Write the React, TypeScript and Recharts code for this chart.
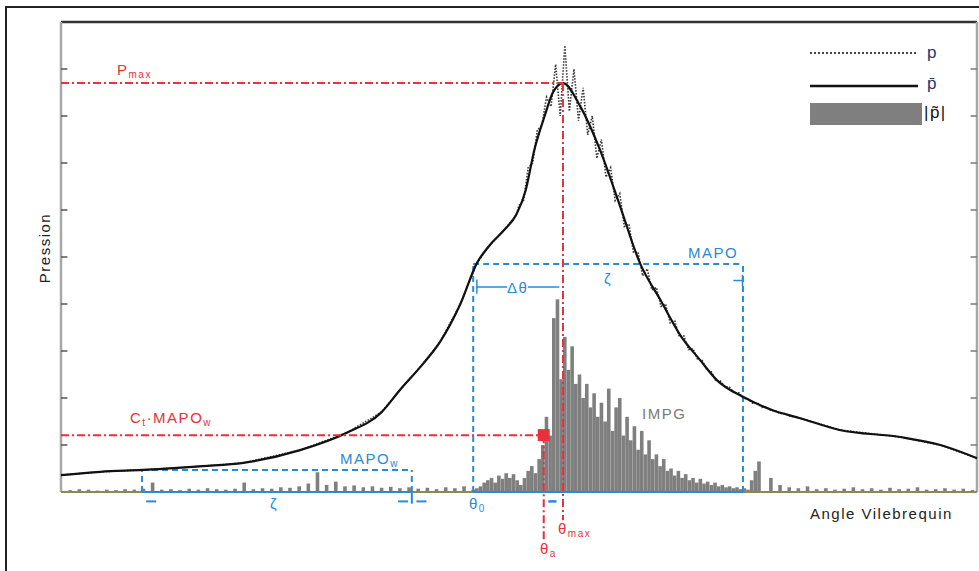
import React from 'react';
import { ComposedChart, Bar, Line, XAxis, YAxis, ReferenceLine, ReferenceDot } from 'recharts';

// smoothed pressure curve (angle, value)
const pressureAngles = [0, 4.3, 8.9, 15.5, 19.9, 26.1, 31.2, 35.0, 37.0, 39.4, 41.4, 43.6, 45.4, 46.8, 48.5, 49.7, 50.7, 51.7, 52.8, 53.7, 54.8, 56.7, 58.8, 61.0, 63.2, 65.4, 67.6, 69.8, 71.6, 74.5, 77.7, 80.7, 85.0, 91.6, 96.0, 100];
const pressureValues = [0.36, 0.43, 0.47, 0.55, 0.62, 0.89, 1.26, 1.7, 2.17, 2.7, 3.2, 4.0, 4.87, 5.25, 5.6, 5.9, 6.4, 7.3, 8.0, 8.5, 8.7, 8.2, 7.3, 6.1, 4.87, 4.1, 3.34, 2.8, 2.38, 2.02, 1.74, 1.57, 1.32, 1.17, 1.0, 0.72];

// raw (noisy) pressure, sampled every 0.5 deg from 50
const rawStart = 50;
const rawStep = 0.5;
const rawValues = [6.1, 6.2, 6.9, 7.0, 7.7, 7.8, 8.4, 8.2, 9.1, 8.0, 9.5, 8.1, 9.0, 7.9, 8.6, 7.6, 8.0, 7.1, 7.5, 6.7, 6.9, 6.2, 6.35, 5.65, 5.7, 5.1, 5.1, 4.6, 4.75, 4.3, 4.35, 3.95, 4.0, 3.6, 3.65, 3.3, 3.32, 3.03, 3.05, 2.82, 2.8, 2.6, 2.56, 2.36, 2.36, 2.24, 2.23, 2.1, 2.11, 1.99, 1.98, 1.89, 1.9, 1.8, 1.81, 1.73, 1.73, 1.67, 1.67, 1.62, 1.6];

// oscillation amplitude histogram
const leftAngles = [1, 2, 3, 4, 5, 6, 7, 8, 9, 10, 11, 12, 13, 14, 15, 16, 17, 18, 19, 20, 21, 22, 23, 24, 25, 26, 27, 28, 29, 30, 31, 32, 33, 34, 35, 36, 37, 38, 39, 40, 41, 42, 43, 44];
const leftValues = [0.04, 0.06, 0.05, 0.03, 0.05, 0.04, 0.06, 0.05, 0.07, 0.2, 0.05, 0.06, 0.04, 0.07, 0.05, 0.08, 0.06, 0.05, 0.07, 0.2, 0.06, 0.08, 0.07, 0.1, 0.09, 0.12, 0.18, 0.42, 0.15, 0.22, 0.12, 0.14, 0.1, 0.12, 0.09, 0.11, 0.08, 0.1, 0.07, 0.09, 0.06, 0.1, 0.08, 0.12];
const mainStart = 45;
const mainStep = 0.4;
const mainValues = [0.05, 0.08, 0.12, 0.2, 0.25, 0.3, 0.2, 0.35, 0.28, 0.4, 0.3, 0.38, 0.25, 0.15, 0.3, 0.45, 0.55, 0.4, 0.7, 1.0, 1.6, 1.2, 3.7, 4.1, 2.4, 3.3, 2.6, 3.1, 2.3, 2.5, 2.0, 2.3, 1.8, 2.1, 1.6, 1.9, 1.5, 2.2, 1.3, 1.8, 2.0, 1.2, 1.6, 1.1, 1.4, 0.9, 1.3, 0.8, 1.1, 0.7, 0.8, 0.55, 0.7, 0.45, 0.5, 0.35, 0.45, 0.3, 0.38, 0.25, 0.3, 0.2, 0.28, 0.18, 0.22, 0.15, 0.2, 0.12, 0.15, 0.1, 0.12, 0.08, 0.1, 0.06, 0.08, 0.05, 0.25, 0.45, 0.65];
const rightAngles = [77.5, 78.5, 79.5, 80.5, 81.5, 82.5, 83.5, 84.5, 85.5, 86.5, 87.5, 88.5, 89.5, 90.5, 91.5, 92.5, 93.5, 94.5, 95.5, 96.5, 97.5, 98.5, 99.5];
const rightValues = [0.3, 0.15, 0.1, 0.08, 0.12, 0.06, 0.08, 0.05, 0.07, 0.1, 0.06, 0.08, 0.05, 0.09, 0.06, 0.07, 0.1, 0.05, 0.06, 0.08, 0.05, 0.07, 0.04];

const yTicks = [1, 2, 3, 4, 5, 6, 7, 8, 9];

// annotation values
const pMax = 8.7;
const thetaMax = 54.8;
const thetaA = 52.7;
const cMapo = 1.21;
const mapoBox = { x1: 45.0, x2: 74.45, top: 4.85 };
const mapoWBox = { x1: 8.84, x2: 38.3, top: 0.47 };

const pressureData = pressureAngles.map((x, i) => ({ x, v: pressureValues[i] }));
const rawData = [
  ...pressureData.filter((d) => d.x < rawStart),
  ...rawValues.map((v, i) => ({ x: rawStart + i * rawStep, v })),
  ...pressureData.filter((d) => d.x > rawStart + (rawValues.length - 1) * rawStep),
];
const barData = [
  ...leftAngles.map((x, i) => ({ x, v: leftValues[i] })),
  ...mainValues.map((v, i) => ({ x: +(mainStart + i * mainStep).toFixed(2), v })),
  ...rightAngles.map((x, i) => ({ x, v: rightValues[i] })),
];

const RED = '#e8313a';
const BLUE = '#2b8ad6';
const FONT = '"Liberation Sans", Arial, sans-serif';

const T = ({ x, y, color = '#222', size = 15, bg, children }: any) => (
  <div
    style={{
      position: 'absolute',
      left: x,
      top: y,
      color,
      fontSize: size,
      fontFamily: FONT,
      letterSpacing: 1.5,
      lineHeight: 1,
      whiteSpace: 'nowrap',
      background: bg,
    }}
  >
    {children}
  </div>
);

const Sub = ({ children }: any) => <sub style={{ fontSize: 10, verticalAlign: -3 }}>{children}</sub>;

const seg = (x1: number, y1: number, x2: number, y2: number) => [
  { x: x1, y: y1 },
  { x: x2, y: y2 },
];

// histogram bar, centred on the library's bar position with a fixed width
const HistBar = (p: any) => {
  const cx = p.x + p.width / 2;
  return <rect x={cx - 1.8} y={p.y} width={3.6} height={Math.max(p.height, 0)} fill="#7f7f7f" />;
};

export default function App() {
  return (
    <div style={{ position: 'absolute', left: 0, top: 0, width: 979, height: 571, overflow: 'hidden', background: '#fff' }}>
      <div style={{ position: 'absolute', left: 5, top: 6, right: -4, bottom: -4, borderLeft: '2px solid #222', borderTop: '2px solid #222' }} />
      <div style={{ position: 'absolute', left: 0, top: 0 }}>
        <ComposedChart width={979} height={571} data={barData} margin={{ top: 22, right: 2, bottom: 79, left: 61 }}>
          <XAxis type="number" dataKey="x" domain={[0, 100]} hide />
          <YAxis domain={[0, 10]} hide />

          <Bar dataKey="v" fill="#7f7f7f" shape={HistBar} isAnimationActive={false} />

          {/* plot frame and inner ticks */}
          <ReferenceLine y={10} stroke="#333" strokeWidth={2.5} />
          <ReferenceLine x={0} stroke="#a8a8a8" strokeWidth={2.5} />
          <ReferenceLine x={100} stroke="#a8a8a8" strokeWidth={2.5} />
          <ReferenceLine y={0} stroke="#8a8a55" strokeWidth={2} />
          {yTicks.map((k) => (
            <ReferenceLine key={'l' + k} segment={seg(0, k, 0.7, k)} stroke="#555" strokeWidth={1.5} />
          ))}
          {yTicks.map((k) => (
            <ReferenceLine key={'r' + k} segment={seg(99.3, k, 100, k)} stroke="#777" strokeWidth={1.5} />
          ))}

          {/* MAPOw window */}
          <ReferenceLine segment={seg(mapoWBox.x1, 0, mapoWBox.x1, mapoWBox.top)} stroke={BLUE} strokeWidth={2} strokeDasharray="6 4" />
          <ReferenceLine segment={seg(mapoWBox.x1, mapoWBox.top, mapoWBox.x2, mapoWBox.top)} stroke={BLUE} strokeWidth={2} strokeDasharray="6 4" />
          <ReferenceLine segment={seg(mapoWBox.x2, 0, mapoWBox.x2, mapoWBox.top)} stroke={BLUE} strokeWidth={2} strokeDasharray="6 4" />
          <ReferenceLine segment={seg(mapoWBox.x1, 0, mapoWBox.x2, 0)} stroke={BLUE} strokeWidth={2} />
          {/* MAPO window */}
          <ReferenceLine segment={seg(mapoBox.x1, 0, mapoBox.x1, mapoBox.top)} stroke={BLUE} strokeWidth={2} strokeDasharray="6 4" />
          <ReferenceLine segment={seg(mapoBox.x1, mapoBox.top, mapoBox.x2, mapoBox.top)} stroke={BLUE} strokeWidth={2} strokeDasharray="6 4" />
          <ReferenceLine segment={seg(mapoBox.x2, 0, mapoBox.x2, mapoBox.top)} stroke={BLUE} strokeWidth={2} strokeDasharray="6 4" />
          <ReferenceLine segment={seg(mapoBox.x1, 0, mapoBox.x2, 0)} stroke={BLUE} strokeWidth={2} />
          <ReferenceLine segment={seg(45.4, 4.36, 54.4, 4.36)} stroke={BLUE} strokeWidth={1.5} />
          <ReferenceLine segment={seg(45.4, 4.22, 45.4, 4.52)} stroke={BLUE} strokeWidth={1.5} />
          <ReferenceLine segment={seg(73.4, 4.5, 74.4, 4.5)} stroke={BLUE} strokeWidth={1.5} />
          <ReferenceLine segment={seg(74.4, 4.38, 74.4, 4.62)} stroke={BLUE} strokeWidth={1.5} />
          {/* window marks under the axis */}
          <ReferenceLine segment={seg(9.3, -0.2, 10.4, -0.2)} stroke={BLUE} strokeWidth={2} ifOverflow="visible" />
          <ReferenceLine segment={seg(36.8, -0.2, 37.9, -0.2)} stroke={BLUE} strokeWidth={2} ifOverflow="visible" />
          <ReferenceLine segment={seg(38.3, -0.02, 38.3, -0.25)} stroke={BLUE} strokeWidth={2} ifOverflow="visible" />
          <ReferenceLine segment={seg(38.8, -0.2, 39.9, -0.2)} stroke={BLUE} strokeWidth={2} ifOverflow="visible" />
          <ReferenceLine segment={seg(53.2, -0.2, 54.1, -0.2)} stroke={BLUE} strokeWidth={2.5} ifOverflow="visible" />

          <Line data={rawData} dataKey="v" type="linear" stroke="#333" strokeWidth={1.6} strokeDasharray="1.5 1.5" dot={false} isAnimationActive={false} />
          <Line data={pressureData} dataKey="v" type="monotone" stroke="#111" strokeWidth={2.2} dot={false} isAnimationActive={false} />

          {/* Pmax / theta max */}
          <ReferenceLine segment={seg(0, pMax, thetaMax, pMax)} stroke={RED} strokeWidth={2} strokeDasharray="8 3 2 3" />
          <ReferenceLine segment={seg(thetaMax, pMax, thetaMax, -0.6)} stroke={RED} strokeWidth={2} strokeDasharray="8 3 2 3" ifOverflow="visible" />
          {/* C.MAPOw / theta a */}
          <ReferenceLine segment={seg(0, cMapo, thetaA, cMapo)} stroke={RED} strokeWidth={2} strokeDasharray="8 3 2 3" />
          <ReferenceLine segment={seg(thetaA, cMapo, thetaA, -1.05)} stroke={RED} strokeWidth={2} strokeDasharray="8 3 2 3" ifOverflow="visible" />
          <ReferenceDot
            x={thetaA}
            y={cMapo}
            r={6}
            shape={(p: any) => <rect x={p.cx - 6} y={p.cy - 6} width={12} height={12} fill={RED} />}
          />
        </ComposedChart>
      </div>

      {/* legend */}
      <svg style={{ position: 'absolute', left: 805, top: 40 }} width={120} height={90}>
        <line x1={5} y1={13} x2={113} y2={13} stroke="#444" strokeWidth={2} strokeDasharray="2 2" />
        <line x1={5} y1={46} x2={113} y2={46} stroke="#111" strokeWidth={2.5} />
        <rect x={5} y={63} width={112} height={22} fill="#7f7f7f" />
      </svg>
      <T x={927} y={44} color="#1e3570" size={17}>p</T>
      <T x={927} y={75} color="#1e3570" size={17}>p̄</T>
      <T x={924} y={104} color="#111" size={17}>|p̃|</T>

      {/* annotations */}
      <T x={117} y={62} color={RED}>P<Sub>max</Sub></T>
      <T x={130} y={410} color={RED}>C<Sub>t</Sub>·MAPO<Sub>w</Sub></T>
      <T x={340} y={451} color={BLUE}>MAPO<Sub>w</Sub></T>
      <T x={688} y={245} color={BLUE}>MAPO</T>
      <T x={604} y={271} color={BLUE}>ζ</T>
      <T x={507} y={280} color={BLUE} bg="#fff">Δθ</T>
      <T x={270} y={496} color={BLUE}>ζ</T>
      <T x={469} y={496} color={BLUE}>θ<Sub>0</Sub></T>
      <T x={642} y={406} color="#7a7a7a">IMPG</T>
      <T x={558} y={521} color={RED}>θ<Sub>max</Sub></T>
      <T x={540} y={541} color={RED}>θ<Sub>a</Sub></T>
      <T x={810} y={506} color="#222">Angle Vilebrequin</T>
      <div
        style={{
          position: 'absolute',
          left: 44,
          top: 248,
          transform: 'translate(-50%, -50%) rotate(-90deg)',
          fontFamily: FONT,
          fontSize: 15,
          letterSpacing: 1.5,
          color: '#222',
          whiteSpace: 'nowrap',
        }}
      >
        Pression
      </div>
    </div>
  );
}
